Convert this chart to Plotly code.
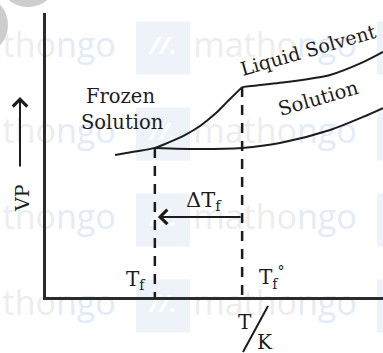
import plotly.graph_objects as go

W, H = 383, 353

# ---- data (temperature T in arbitrary units, vapour pressure VP in arbitrary units)
frozen_T = [2.05, 2.64, 3.23, 3.68, 4.12, 4.57, 5.01, 5.40, 5.82]
frozen_VP = [5.00, 5.12, 5.25, 5.46, 5.70, 6.02, 6.44, 6.90, 7.39]

solvent_T = [5.82, 6.94, 8.43, 9.41, 10.0]
solvent_VP = [7.39, 7.54, 7.82, 8.27, 8.63]

solution_T = [3.23, 4.57, 5.82, 6.94, 8.43, 9.41, 10.0]
solution_VP = [5.25, 5.21, 5.25, 5.42, 5.88, 6.34, 6.65]

Tf = 3.23          # freezing point of solution
Tf0 = 5.82         # freezing point of pure solvent
VP_at_Tf = 5.25
VP_at_Tf0 = 7.39
arrow_VP = 2.82

FONT = "DejaVu Serif"
INK = "#1c1c1c"


def px(x):
    return x / W


def py(y):
    return 1 - y / H


fig = go.Figure()

# ---- faint watermark layer (full-paper axes)
wm_cols = [34, 275]
wm_rows = [48, 134, 220, 306]
wm_x, wm_y = [], []
for r in wm_rows:
    for c in wm_cols:
        wm_x.append(c)
        wm_y.append(r)
fig.add_trace(go.Scatter(
    x=wm_x, y=wm_y, mode="text",
    text=["matho<span style='color:#e2ebf7'>ngo</span>"] * len(wm_x),
    textfont=dict(family="Open Sans", size=34, color="#ededed"),
    hoverinfo="skip", showlegend=False, xaxis="x", yaxis="y"))

logo_x = [163, 404]
lx, ly = [], []
for r in wm_rows:
    for c in logo_x:
        lx.append(c)
        ly.append(r)
        fig.add_shape(type="rect", xref="paper", yref="paper",
                      x0=px(c - 27), x1=px(c + 27), y0=py(r - 26.5), y1=py(r + 26.5),
                      fillcolor="#eef3fa", line=dict(width=0), layer="below")
fig.add_trace(go.Scatter(
    x=lx, y=ly, mode="text", text=["<i><b>//.</b></i>"] * len(lx),
    textfont=dict(family="Open Sans", size=24, color="#ffffff"),
    hoverinfo="skip", showlegend=False, xaxis="x", yaxis="y"))

# grey circles top-left
fig.add_shape(type="circle", xref="paper", yref="paper",
              x0=px(-2), x1=px(58), y0=py(-52), y1=py(7),
              fillcolor="#cdcdcd", line=dict(width=0))
fig.add_shape(type="circle", xref="paper", yref="paper",
              x0=px(-52), x1=px(8), y0=py(-5), y1=py(55),
              fillcolor="#cdcdcd", line=dict(width=0))

# ---- chart layer
line_style = dict(color=INK, width=2, shape="spline", smoothing=0.8)
fig.add_trace(go.Scatter(x=frozen_T, y=frozen_VP, mode="lines", line=line_style,
                         hoverinfo="skip", showlegend=False, xaxis="x2", yaxis="y2"))
fig.add_trace(go.Scatter(x=solvent_T, y=solvent_VP, mode="lines", line=line_style,
                         hoverinfo="skip", showlegend=False, xaxis="x2", yaxis="y2"))
fig.add_trace(go.Scatter(x=solution_T, y=solution_VP, mode="lines", line=line_style,
                         hoverinfo="skip", showlegend=False, xaxis="x2", yaxis="y2"))

dash = dict(color=INK, width=2.5, dash="10px,8px")
fig.add_trace(go.Scatter(x=[Tf, Tf], y=[VP_at_Tf, 0], mode="lines", line=dash,
                         hoverinfo="skip", showlegend=False, xaxis="x2", yaxis="y2"))
fig.add_trace(go.Scatter(x=[Tf0, Tf0], y=[VP_at_Tf0, 0], mode="lines", line=dash,
                         hoverinfo="skip", showlegend=False, xaxis="x2", yaxis="y2"))

# ΔTf arrow
fig.add_annotation(x=Tf + 0.09, y=arrow_VP, ax=Tf0, ay=arrow_VP,
                   xref="x2", yref="y2", axref="x2", ayref="y2",
                   showarrow=True, arrowhead=4, arrowsize=1.4, arrowwidth=2,
                   arrowcolor=INK, text="", standoff=0, startstandoff=0)

# VP up-arrow
fig.add_annotation(x=px(20), y=py(97), ax=0, ay=71,
                   xref="paper", yref="paper", axref="pixel", ayref="pixel",
                   showarrow=True, arrowhead=4, arrowsize=1.4, arrowwidth=2,
                   arrowcolor=INK, text="", standoff=0)


def label(text, x, y, size=20, angle=0):
    fig.add_annotation(x=px(x), y=py(y), xref="paper", yref="paper", text=text,
                       showarrow=False, textangle=angle,
                       font=dict(family=FONT, size=size, color=INK),
                       xanchor="center", yanchor="middle")


label("Liquid Solvent", 308, 50, 19, -16)
label("Solution", 318, 98, 19.5, -16)
label("Frozen", 120, 96, 19.5)
label("Solution", 122, 122, 19.5)
label("ΔT<sub>f</sub>", 204, 201, 21)
label("T<sub>f</sub>", 136, 280, 20)
label("T<sub>f</sub><sup>°</sup>", 272, 277, 20)
label("VP", 22, 198, 19, -90)
label("T", 245, 322, 20)
label("K", 265, 342, 20)
fig.add_shape(type="line", xref="paper", yref="paper",
              x0=px(243), y0=py(352), x1=px(268), y1=py(306),
              line=dict(color=INK, width=2))

axis_common = dict(showline=True, linecolor="#2b2b2b", linewidth=3, mirror=False,
                   showticklabels=False, ticks="", showgrid=False, zeroline=False,
                   fixedrange=True)

fig.update_layout(
    width=W, height=H,
    margin=dict(l=0, r=0, t=0, b=0),
    paper_bgcolor="white", plot_bgcolor="rgba(0,0,0,0)",
    showlegend=False,
    xaxis=dict(domain=[0, 1], range=[0, W], visible=False, fixedrange=True),
    yaxis=dict(domain=[0, 1], range=[H, 0], visible=False, fixedrange=True),
    xaxis2=dict(domain=[46 / W, 1], range=[0, 10], anchor="y2", **axis_common),
    yaxis2=dict(domain=[56 / H, 340 / H], range=[0, 10], anchor="x2", **axis_common),
)

fig.write_html("out.html", config={"displayModeBar": False},
               post_script="document.body.style.margin='0';document.body.style.overflow='hidden';")
